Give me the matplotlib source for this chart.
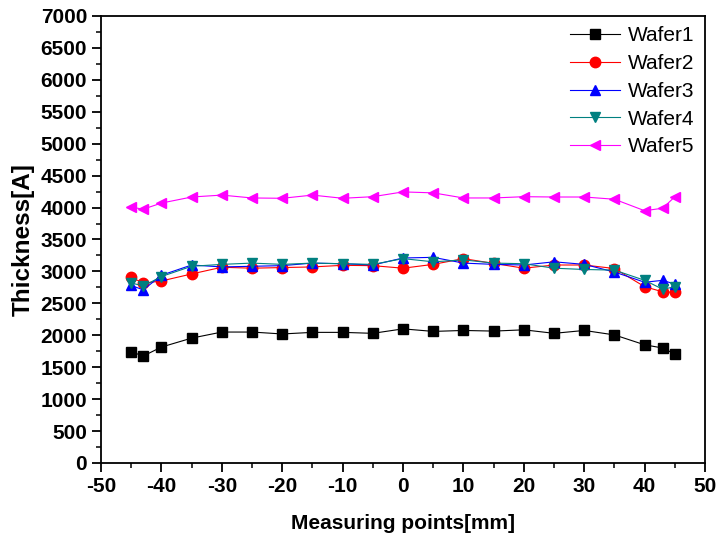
import matplotlib
matplotlib.use("Agg")
import matplotlib.pyplot as plt
from matplotlib.ticker import MultipleLocator

plt.rcParams["font.family"] = ["Liberation Sans", "DejaVu Sans"]
plt.rcParams["axes.unicode_minus"] = False

# measuring positions [mm]
positions = [-45, -43, -40, -35, -30, -25, -20, -15, -10, -5, 0,
             5, 10, 15, 20, 25, 30, 35, 40, 43, 45]

wafer1 = [1740, 1675, 1815, 1955, 2050, 2050, 2020, 2045, 2045, 2030, 2100,
          2060, 2075, 2065, 2085, 2030, 2075, 2005, 1850, 1800, 1705]
wafer2 = [2910, 2815, 2850, 2960, 3065, 3050, 3060, 3070, 3095, 3090, 3050,
          3110, 3200, 3125, 3050, 3100, 3100, 3045, 2760, 2680, 2670]
wafer3 = [2780, 2710, 2940, 3100, 3070, 3080, 3090, 3130, 3120, 3100, 3210,
          3220, 3130, 3110, 3100, 3150, 3110, 2990, 2830, 2860, 2800]
wafer4 = [2820, 2770, 2920, 3080, 3110, 3130, 3110, 3130, 3120, 3110, 3200,
          3150, 3180, 3130, 3120, 3050, 3030, 3020, 2860, 2720, 2760]
wafer5 = [4005, 3975, 4070, 4165, 4195, 4150, 4145, 4195, 4145, 4170, 4245,
          4230, 4150, 4150, 4170, 4165, 4165, 4130, 3950, 3990, 4170]

series = [
    ("Wafer1", wafer1, "black", "s"),
    ("Wafer2", wafer2, "red", "o"),
    ("Wafer3", wafer3, "blue", "^"),
    ("Wafer4", wafer4, "#008080", "v"),
    ("Wafer5", wafer5, "magenta", "<"),
]

fig = plt.figure(figsize=(7.18, 5.44), dpi=100)
ax = fig.add_axes([0.1407, 0.149, 0.8413, 0.8216])

for label, values, color, marker in series:
    ax.plot(positions, values, color=color, marker=marker, markersize=7.5,
            linewidth=0.8, label=label)

ax.set_xlim(-50, 50)
ax.set_ylim(0, 7000)
ax.xaxis.set_major_locator(MultipleLocator(10))
ax.xaxis.set_minor_locator(MultipleLocator(5))
ax.yaxis.set_major_locator(MultipleLocator(500))
ax.yaxis.set_minor_locator(MultipleLocator(250))

ax.tick_params(which="major", direction="out", length=6.5, width=1.3,
               labelsize=15, top=False, right=False)
ax.tick_params(which="minor", direction="out", length=3.5, width=1.1,
               top=False, right=False)
for lab in ax.get_xticklabels() + ax.get_yticklabels():
    lab.set_fontweight("bold")

for spine in ax.spines.values():
    spine.set_linewidth(1.3)

ax.set_xlabel("Measuring points[mm]", fontsize=15, fontweight="bold",
              labelpad=13)
ax.set_ylabel("Thickness[A]", fontsize=17.5, fontweight="bold", labelpad=4)

ax.legend(loc="upper right", frameon=False, fontsize=15, handlelength=2.4,
          handletextpad=0.4, labelspacing=0.42, borderaxespad=0.1,
          markerscale=1.0)

fig.savefig("out.png", dpi=100)
